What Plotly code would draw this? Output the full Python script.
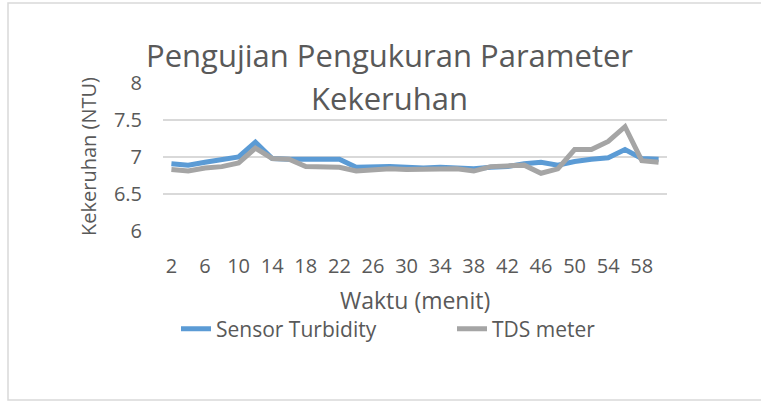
import plotly.graph_objects as go

waktu = [str(v) for v in range(2, 61, 2)]
tick_labels = [str(v) for v in range(2, 59, 4)]
sensor_turbidity = [6.91, 6.89, 6.93, 6.97, 7.00, 7.20, 6.98, 6.97, 6.97, 6.98,
                    6.97, 6.86, 6.87, 6.87, 6.86, 6.85, 6.86, 6.85, 6.84, 6.86,
                    6.87, 6.91, 6.93, 6.89, 6.94, 6.97, 6.99, 7.10, 6.98, 6.97]
tds_meter = [6.83, 6.81, 6.85, 6.87, 6.92, 7.12, 6.98, 6.97, 6.87, 6.86,
             6.86, 6.81, 6.83, 6.84, 6.83, 6.83, 6.84, 6.84, 6.81, 6.87,
             6.88, 6.89, 6.78, 6.84, 7.10, 7.10, 7.21, 7.41, 6.95, 6.93]
y_ticks = [6, 6.5, 7, 7.5, 8]
y_tick_text = ["6", "6.5", "7", "7.5", "8"]

FONT = "Open Sans"
TXT = "#595959"
W, H = 761, 405
L, R, T, B = 163, 667, 83, 231
pw, ph = R - L, B - T

def px(x):
    return (x - L) / pw

def py(y):
    return (B - y) / ph

fig = go.Figure()
fig.add_trace(go.Scatter(x=waktu, y=sensor_turbidity, mode="lines", name="Sensor Turbidity",
                         line=dict(color="#5B9BD5", width=5), legend="legend"))
fig.add_trace(go.Scatter(x=waktu, y=tds_meter, mode="lines", name="TDS meter",
                         line=dict(color="#A5A5A5", width=5), legend="legend2"))

legend_style = dict(orientation="h", xref="container", yref="container",
                    y=1 - 329 / H, xanchor="left", yanchor="middle",
                    font=dict(size=21, color=TXT, family=FONT),
                    bgcolor="rgba(0,0,0,0)", itemwidth=30)

fig.update_layout(
    width=W, height=H,
    margin=dict(l=L, r=W - R, t=T, b=H - B),
    paper_bgcolor="white", plot_bgcolor="white",
    font=dict(family=FONT, color=TXT),
    showlegend=True,
    legend=dict(x=176 / W, **legend_style),
    legend2=dict(x=452 / W, **legend_style),
    xaxis=dict(type="category", range=[-0.5, 29.5], tickmode="array",
               tickvals=tick_labels, ticktext=tick_labels, showgrid=False,
               showline=False, zeroline=False, ticks="",
               tickfont=dict(size=20, color=TXT, family=FONT), ticklabelstandoff=21),
    yaxis=dict(range=[6, 8], tickmode="array", tickvals=y_ticks, ticktext=y_tick_text,
               showgrid=True, gridcolor="#D9D9D9", gridwidth=1.5, zeroline=False,
               showline=False, ticks="", tickfont=dict(size=20, color=TXT, family=FONT),
               ticklabelstandoff=20),
    annotations=[
        dict(text="Pengujian Pengukuran Parameter", xref="paper", yref="paper",
             x=px(389), y=py(55), showarrow=False, xanchor="center", yanchor="middle",
             font=dict(size=31, color=TXT, family=FONT)),
        dict(text="Kekeruhan", xref="paper", yref="paper",
             x=px(389), y=py(98), showarrow=False, xanchor="center", yanchor="middle",
             font=dict(size=31, color=TXT, family=FONT)),
        dict(text="Kekeruhan (NTU)", xref="paper", yref="paper", textangle=-90,
             x=px(88), y=py(157), showarrow=False, xanchor="center", yanchor="middle",
             font=dict(size=20, color=TXT, family=FONT)),
        dict(text="Waktu (menit)", xref="paper", yref="paper",
             x=px(415), y=py(300), showarrow=False, xanchor="center", yanchor="middle",
             font=dict(size=23, color=TXT, family=FONT)),
    ],
    shapes=[dict(type="rect", xref="paper", yref="paper",
                 x0=px(8), x1=px(775), y0=py(400), y1=py(3),
                 line=dict(color="#D9D9D9", width=1.5), fillcolor="rgba(0,0,0,0)",
                 layer="below")],
)

fig.write_html("out.html", config={"displayModeBar": False},
               post_script="document.body.style.margin='0px';")
